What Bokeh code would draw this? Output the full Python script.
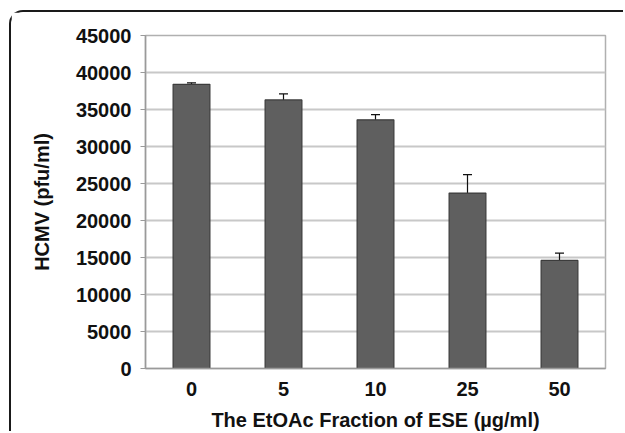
from bokeh.plotting import figure
from bokeh.models import ColumnDataSource, FactorRange, Range1d, FixedTicker, Whisker, TeeHead
from bokeh.embed import file_html
from bokeh.resources import INLINE

categories = ["0", "5", "10", "25", "50"]
values = [38400, 36300, 33600, 23700, 14600]
errors = [200, 800, 700, 2500, 1000]
y_ticks = [0, 5000, 10000, 15000, 20000, 25000, 30000, 35000, 40000, 45000]

lower = [v - e for v, e in zip(values, errors)]
upper = [v + e for v, e in zip(values, errors)]
src = ColumnDataSource(dict(x=categories, top=values, lower=lower, upper=upper))

FONT = "Liberation Sans"

p = figure(width=614, height=421, output_backend="svg", toolbar_location=None,
           x_range=FactorRange(*categories), y_range=Range1d(0, 45000),
           min_border_left=134, min_border_top=23, min_border_right=20, min_border_bottom=63)
p.styles = {"margin-left": "9px", "margin-top": "10px",
            "border-top": "2px solid #1a1a1a", "border-left": "2px solid #1a1a1a",
            "border-top-left-radius": "14px"}

p.vbar(x="x", top="top", width=0.4, source=src, fill_color="#5f5f5f",
       line_color="#3c3c3c", line_width=1.2)

w = Whisker(source=src, base="x", lower="lower", upper="upper",
            line_color="#111111", line_width=1.2,
            upper_head=TeeHead(size=9, line_color="#111111", line_width=1.2),
            lower_head=TeeHead(size=9, line_color="#111111", line_width=1.2))
p.add_layout(w)

p.outline_line_color = "#b0b0b0"
p.outline_line_width = 1.5
p.xgrid.grid_line_color = None
p.ygrid.grid_line_color = "#c8c8c8"
p.ygrid.grid_line_width = 2
p.yaxis.ticker = FixedTicker(ticks=y_ticks)

for ax in (p.xaxis[0], p.yaxis[0]):
    ax.axis_line_color = "#9a9a9a"
    ax.axis_line_width = 1.5
    ax.major_label_text_font = FONT
    ax.major_label_text_font_style = "bold"
    ax.major_label_text_font_size = "20px"
    ax.major_label_text_color = "#111111"
    ax.axis_label_text_font = FONT
    ax.axis_label_text_font_style = "bold"
    ax.axis_label_text_font_size = "20px"
    ax.axis_label_text_color = "#111111"
    ax.minor_tick_line_color = None

p.yaxis.major_tick_line_color = "#9a9a9a"
p.yaxis.major_tick_in = 0
p.yaxis.major_tick_out = 5
p.yaxis.major_label_standoff = 9
p.xaxis.major_tick_line_color = None
p.xaxis.major_label_standoff = 7
p.yaxis.axis_label = "HCMV (pfu/ml)"
p.xaxis.axis_label = "The EtOAc Fraction of ESE (µg/ml)"
p.yaxis.axis_label_standoff = 20
p.xaxis.axis_label_standoff = 10

open("out.html", "w").write(file_html(p, INLINE))
